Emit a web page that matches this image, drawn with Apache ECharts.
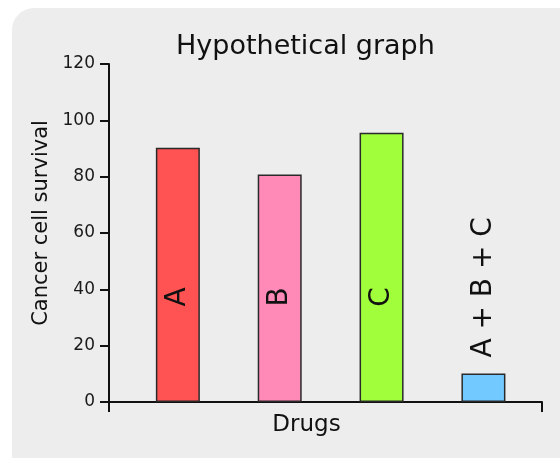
<!DOCTYPE html>
<html>
<head>
<meta charset="utf-8">
<script src="https://cdn.jsdelivr.net/npm/echarts@6/dist/echarts.min.js"></script>
<style>
html,body{margin:0;padding:0;background:#ffffff;width:560px;height:458px;overflow:hidden;}
#panel{position:absolute;left:12px;top:8px;width:580px;height:480px;background:#ededed;border-radius:22px;}
#chart{position:absolute;left:0;top:0;width:560px;height:458px;}
</style>
</head>
<body>
<div id="panel"></div>
<div id="chart"></div>
<script>
const categories = ['A', 'B', 'C', 'A + B + C'];
const survival = [90.3, 80.8, 95.6, 10.1];
const barColors = ['#ff5252', '#ff8ab8', '#a0ff3a', '#72c9ff'];
const yTicks = [0, 20, 40, 60, 80, 100, 120];

const FONT = 'DejaVu Sans';
const chart = echarts.init(document.getElementById('chart'), null, {renderer: 'canvas'});

const barData = survival.map((v, i) => {
  const inside = i < 3;
  return {
    value: [i, v],
    itemStyle: {color: barColors[i]},
    label: inside ? {
      position: 'insideBottom', distance: 105, align: 'center', verticalAlign: 'middle'
    } : {
      position: 'top', distance: 16, align: 'left', verticalAlign: 'middle'
    }
  };
});

chart.setOption({
  backgroundColor: 'transparent',
  animation: false,
  title: {
    text: 'Hypothetical graph',
    left: 171,
    top: 28,
    textStyle: {fontFamily: FONT, fontSize: 27, fontWeight: 'normal', color: '#111'}
  },
  grid: {left: 109, right: 18, top: 64, bottom: 56, containLabel: false},
  xAxis: [{
    type: 'value',
    min: -0.676,
    max: 3.575,
    name: 'Drugs',
    nameLocation: 'middle',
    nameGap: 12,
    nameTextStyle: {fontFamily: FONT, fontSize: 23, color: '#111', verticalAlign: 'top', padding: [0, 38, 0, 0]},
    axisLine: {show: true, onZero: false, lineStyle: {color: '#111', width: 2}},
    axisTick: {show: false},
    axisLabel: {show: false},
    splitLine: {show: false}
  }, {
    type: 'value',
    min: 0, max: 1, interval: 1,
    position: 'bottom',
    axisLine: {show: false, onZero: false},
    axisTick: {show: true, length: 10, lineStyle: {color: '#111', width: 2}},
    axisLabel: {show: false},
    splitLine: {show: false}
  }],
  yAxis: {
    type: 'value',
    min: yTicks[0],
    max: yTicks[yTicks.length - 1],
    interval: yTicks[1] - yTicks[0],
    name: 'Cancer cell survival',
    nameLocation: 'middle',
    nameGap: 57,
    nameTextStyle: {fontFamily: FONT, fontSize: 21, color: '#111', padding: [0, 0, 0, 20]},
    axisLine: {show: true, onZero: false, lineStyle: {color: '#111', width: 2}},
    axisTick: {show: true, length: 9, lineStyle: {color: '#111', width: 2}},
    axisLabel: {fontFamily: FONT, fontSize: 17, color: '#1a1a1a', margin: 14},
    splitLine: {show: false}
  },
  series: [{
    type: 'bar',
    xAxisIndex: 0,
    barWidth: 44,
    data: barData,
    itemStyle: {borderColor: '#2a2a2a', borderWidth: 1.5},
    label: {
      show: true,
      rotate: 90,
      fontFamily: FONT,
      fontSize: 28,
      color: '#111',
      formatter: p => categories[p.dataIndex]
    }
  }]
});
</script>
</body>
</html>
